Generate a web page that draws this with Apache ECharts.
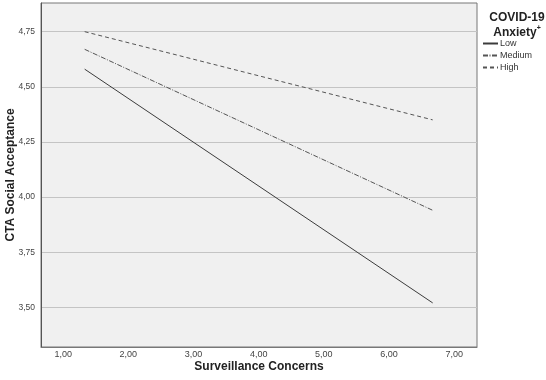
<!DOCTYPE html>
<html>
<head>
<meta charset="utf-8">
<script src="https://cdn.jsdelivr.net/npm/echarts@6/dist/echarts.min.js"></script>
<style>
  html, body { margin: 0; padding: 0; background: #fff; }
  #chart { width: 546px; height: 380px; }
</style>
</head>
<body>
<div id="chart"></div>
<script>
// x = surveillance concerns (mean -/+ 1 SD), y = predicted CTA social acceptance
const xValues = [1.33, 6.67];
const lowValues = [4.58, 3.52];
const mediumValues = [4.67, 3.94];
const highValues = [4.75, 4.35];
const xTicks = [1, 2, 3, 4, 5, 6, 7];
const yTicks = [3.5, 3.75, 4, 4.25, 4.5, 4.75];

const fmt = v => v.toFixed(2).replace('.', ',');
const toPairs = ys => xValues.map((x, i) => [x, ys[i]]);
const font = '"Liberation Sans", Arial, sans-serif';

const chart = echarts.init(document.getElementById('chart'));
chart.setOption({
  backgroundColor: '#fff',
  animation: false,
  textStyle: { fontFamily: font },
  title: {
    text: 'COVID-19\nAnxiety{s|+}',
    left: 512,
    top: 5,
    textAlign: 'center',
    textStyle: {
      fontFamily: font,
      fontSize: 12,
      fontWeight: 'bold',
      color: '#222',
      lineHeight: 15,
      rich: { s: { fontSize: 7, fontWeight: 'bold', color: '#222', verticalAlign: 'top', lineHeight: 15 } }
    }
  },
  legend: {
    orient: 'vertical',
    left: 482,
    top: 39,
    itemWidth: 15,
    itemHeight: 8,
    itemGap: 3,
    padding: 0,
    itemStyle: { opacity: 0 },
    textStyle: { fontFamily: font, fontSize: 9, color: '#333', padding: [0, 0, 0, -3] },
    data: ['Low', 'Medium', 'High']
  },
  grid: {
    left: 41,
    top: 3,
    right: 69,
    bottom: 33,
    outerBoundsMode: 'none',
    show: true,
    backgroundColor: '#f0f0f0',
    borderColor: '#777',
    borderWidth: 1
  },
  xAxis: {
    type: 'value',
    min: 0.66,
    max: 7.35,
    name: 'Surveillance Concerns',
    nameLocation: 'middle',
    nameGap: 14,
    nameMoveOverlap: false,
    nameTextStyle: { fontFamily: font, fontSize: 12, fontWeight: 'bold', color: '#222' },
    axisLine: { show: true, lineStyle: { color: '#777' } },
    axisTick: { show: false, customValues: xTicks },
    axisLabel: { customValues: xTicks, formatter: fmt, fontSize: 9, color: '#444', margin: 3 },
    splitLine: { show: false }
  },
  yAxis: {
    type: 'value',
    min: 3.32,
    max: 4.88,
    name: 'CTA Social Acceptance',
    nameLocation: 'middle',
    nameGap: 24,
    nameMoveOverlap: false,
    nameTextStyle: { fontFamily: font, fontSize: 12, fontWeight: 'bold', color: '#222' },
    axisLine: { show: true, lineStyle: { color: '#555' } },
    axisTick: { show: false, customValues: yTicks },
    axisLabel: { customValues: yTicks, formatter: fmt, fontSize: 8.5, color: '#444', margin: 6 },
    splitLine: { show: true, lineStyle: { color: '#c4c4c4', width: 1 } }
  },
  series: [
    {
      name: 'Low',
      type: 'line',
      data: toPairs(lowValues),
      symbol: 'none',
      lineStyle: { color: '#3c3c3c', width: 1 },
      itemStyle: { color: '#3c3c3c' }
    },
    {
      name: 'Medium',
      type: 'line',
      data: toPairs(mediumValues),
      symbol: 'none',
      lineStyle: { color: '#555', width: 1, type: [5, 1.5, 1, 1.5] },
      itemStyle: { color: '#555' }
    },
    {
      name: 'High',
      type: 'line',
      data: toPairs(highValues),
      symbol: 'none',
      lineStyle: { color: '#555', width: 1, type: [4, 3] },
      itemStyle: { color: '#555' }
    }
  ]
});
</script>
</body>
</html>
